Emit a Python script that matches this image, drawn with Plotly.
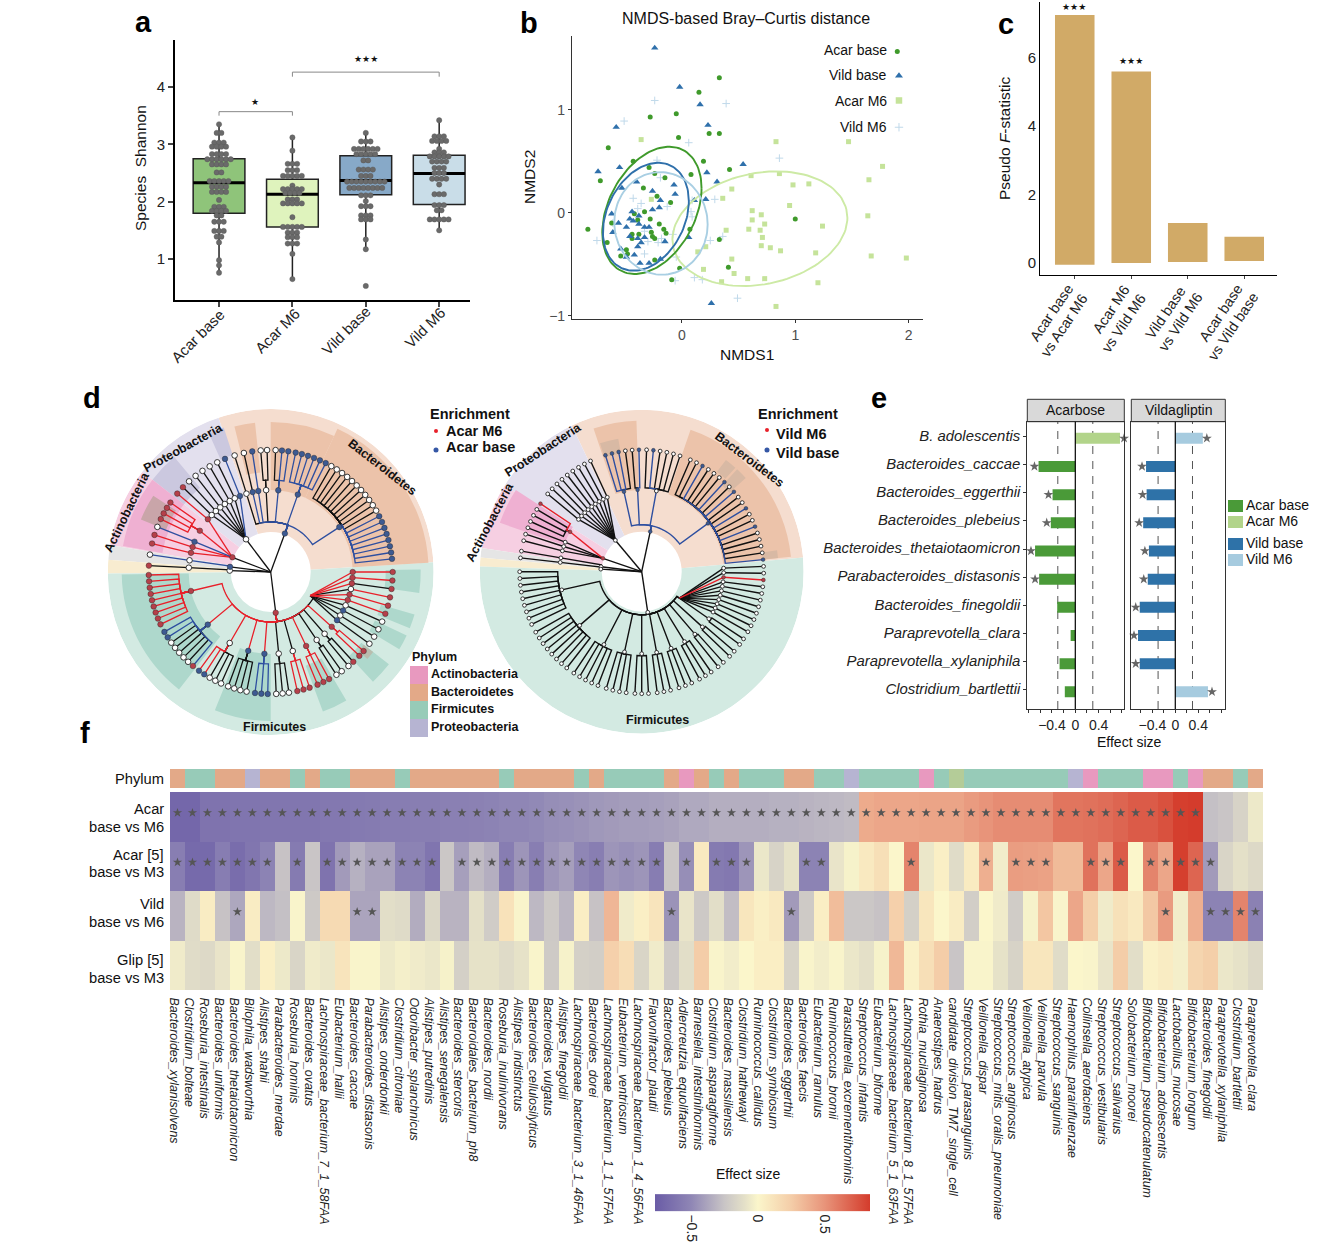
import math
import plotly.graph_objects as go

W, H = 1340, 1257
FONT = "Liberation Sans"

# ---------- panel a ----------
groups_a = ["Acar base", "Acar M6", "Vild base", "Vild M6"]
q1_a = [1.80, 1.56, 2.12, 1.95]
med_a = [2.33, 2.13, 2.37, 2.49]
q3_a = [2.75, 2.39, 2.80, 2.81]
low_a = [0.76, 0.65, 1.18, 1.50]
up_a = [3.35, 3.12, 3.20, 3.42]
fill_a = ["#8fc47a", "#dff3bd", "#87a9c8", "#c9dde8"]
swarm_vals_a = [
    [3.35, 3.2, 3.03, 2.96, 2.83, 2.74, 2.65, 2.51, 2.36, 2.26, 2.17, 2.03, 1.91, 1.84, 1.76, 1.65, 1.49, 1.39, 1.29, 0.98, 0.89, 0.76],
    [3.12, 2.89, 2.66, 2.55, 2.45, 2.28, 2.22, 2.15, 2.04, 1.97, 1.73, 1.56, 1.46, 1.38, 1.27, 1.09, 0.65],
    [3.2, 3.05, 2.92, 2.83, 2.72, 2.56, 2.45, 2.35, 2.24, 2.11, 2.01, 1.92, 1.76, 1.69, 1.34, 1.17, 0.53],
    [3.42, 3.14, 3.06, 2.92, 2.86, 2.79, 2.7, 2.59, 2.5, 2.4, 2.3, 2.13, 1.94, 1.85, 1.69, 1.5],
]
swarm_n_a = [
    [1, 2, 3, 4, 4, 6, 4, 2, 5, 4, 4, 1, 3, 4, 2, 3, 3, 2, 1, 1, 1, 1],
    [1, 1, 3, 3, 5, 1, 5, 4, 3, 5, 1, 5, 3, 3, 3, 1, 1],
    [1, 3, 6, 5, 2, 4, 3, 9, 8, 3, 1, 3, 3, 3, 1, 1, 1],
    [1, 3, 4, 1, 3, 5, 4, 3, 3, 4, 1, 3, 3, 2, 5, 1],
]

# ---------- panel b ----------
ab_x = [.33,.15,-.05,-.28,.24,.33,-.03,-.65,-.72,-.43,-.29,-.24,-.15,.08,.19,.42,-.34,-.22,-.10,-.33,-.42,-.28,-.39,-.62,-.20,-.83,-.16,-.14,-.44,-.38,-.27,-.26,-.24,-.44,-.66,.07,.33,-.49,-.48,-.54,-.24,-.02,.41,-.09,1.0]
ab_y = [1.31,1.17,.96,.93,.77,.77,.73,.63,.31,.50,.44,.38,.34,.37,.50,.42,.24,.16,.10,.01,-.01,-.06,-.07,-.10,-.11,-.16,-.16,-.20,-.21,-.21,-.19,-.23,-.25,-.25,-.29,-.16,-.26,-.36,-.40,-.42,-.46,-.54,-.53,-.65,-.06]
vb_x = [-.24,-.02,.16,-.58,.23,-.74,-.55,.54,.22,.31,-.40,-.53,-.07,-.06,-.26,-.19,.21,.11,-.20,-.26,-.44,-.38,-.62,-.46,-.43,-.56,-.49,-.38,-.33,-.29,-.61,-.46,-.33,-.39,-.36,-.15,.06,-.39,-.54,-.49,-.42,-.37,-.29,-.19,.26]
vb_y = [1.60,1.22,1.05,.83,.85,.40,.44,.47,.39,.30,.30,.24,.27,.18,.21,.12,.13,.12,.05,.03,.01,-.03,-.01,-.06,-.08,-.10,-.14,-.11,-.14,-.14,-.19,-.23,-.24,-.25,-.29,-.28,-.24,-.33,-.35,-.43,-.41,-.49,-.49,-.45,-.88]
am_x = [-.36,.83,1.47,1.77,1.65,.61,.86,.98,1.12,.44,.36,-.27,.95,.62,.70,1.64,.62,.73,1.24,.59,.69,.39,.71,.21,.70,.78,.87,.14,1.18,1.67,1.98,.44,.19,.46,.58,.73,.35,1.20,.83]
am_y = [.71,.69,.69,.45,.32,.36,.38,.27,.28,.23,.14,.13,.07,.02,-.02,-.03,-.07,-.11,-.13,-.16,-.17,-.17,-.24,-.33,-.32,-.34,-.37,-.38,-.39,-.42,-.44,-.45,-.55,-.59,-.64,-.64,-.67,-.68,-.91]
vm_x = [-.24,.39,-.51,.06,.86,-.22,-.19,-.43,-.36,-.39,-.13,.09,.29,.08,.09,.36,.25,-.75,-.33,-.18,-.21,-.08,-.33,-.05,.11,.18,-.06,.49,-.30,-.61]
vm_y = [1.09,1.06,.89,.68,.53,.51,.34,.14,.09,.04,.06,.12,.13,.01,-.04,-.23,-.27,-.27,-.18,-.25,-.29,-.21,-.40,-.43,-.63,-.65,-.66,-.83,-.28,-.10]
# fitted ellipse summaries: centre x, centre y, half-width x, half-width y, correlation
ell_ab = (-.265, .023, .438, .618, .349)
ell_vb = (-.318, -.039, .379, .524, .287)
ell_vm = (-.185, -.104, .412, .498, -.02)
ell_am = (.688, -.155, .772, .557, .19)

# ---------- panel c ----------
pairs_c = ["Acar base<br>vs Acar M6", "Acar M6<br>vs Vild M6", "Vild base<br>vs Vild M6", "Acar base<br>vs Vild base"]
f_top = [7.25, 5.6, 1.17, 0.77]
f_base = [-0.05, 0.0, 0.03, 0.06]

# ---------- panel e ----------
species_e = ["B. adolescentis", "Bacteroides_caccae", "Bacteroides_eggerthii", "Bacteroides_plebeius",
             "Bacteroides_thetaiotaomicron", "Parabacteroides_distasonis", "Bacteroides_finegoldii",
             "Paraprevotella_clara", "Paraprevotella_xylaniphila", "Clostridium_bartlettii"]
acar_e = [.766, -.63, -.39, -.42, -.69, -.62, -.31, -.08, -.27, -.18]
vild_e = [.48, -.51, -.50, -.56, -.46, -.48, -.62, -.65, -.62, .57]
acar_sig = [1, 1, 1, 1, 1, 1, 0, 0, 0, 0]
vild_sig = [1, 1, 1, 1, 1, 1, 1, 1, 1, 1]

# ---------- panel f ----------
taxa = ["Bacteroides_xylanisolvens","Clostridium_bolteae","Roseburia_intestinalis","Bacteroides_uniformis","Bacteroides_thetaiotaomicron","Bilophila_wadsworthia","Alistipes_shahii","Parabacteroides_merdae","Roseburia_hominis","Bacteroides_ovatus","Lachnospiraceae_bacterium_7_1_58FAA","Eubacterium_hallii","Bacteroides_caccae","Parabacteroides_distasonis","Alistipes_onderdonkii","Clostridium_citroniae","Odoribacter_splanchnicus","Alistipes_putredinis","Alistipes_senegalensis","Bacteroides_stercoris","Bacteroidales_bacterium_ph8","Bacteroides_nordii","Roseburia_inulinivorans","Alistipes_indistinctus","Bacteroides_cellulosilyticus","Bacteroides_vulgatus","Alistipes_finegoldii","Lachnospiraceae_bacterium_3_1_46FAA","Bacteroides_dorei","Lachnospiraceae_bacterium_1_1_57FAA","Eubacterium_ventriosum","Lachnospiraceae_bacterium_1_4_56FAA","Flavonifractor_plautii","Bacteroides_plebeius","Adlercreutzia_equolifaciens","Barnesiella_intestinihominis","Clostridium_asparagiforme","Bacteroides_massiliensis","Clostridium_hathewayi","Ruminococcus_callidus","Clostridium_symbiosum","Bacteroides_eggerthii","Bacteroides_faecis","Eubacterium_ramulus","Ruminococcus_bromii","Parasutterella_excrementihominis","Streptococcus_infantis","Eubacterium_biforme","Lachnospiraceae_bacterium_5_1_63FAA","Lachnospiraceae_bacterium_8_1_57FAA","Rothia_mucilaginosa","Anaerostipes_hadrus","candidate_division_TM7_single_cell","Streptococcus_parasanguinis","Veillonella_dispar","Streptococcus_mitis_oralis_pneumoniae","Streptococcus_anginosus","Veillonella_atypica","Veillonella_parvula","Streptococcus_sanguinis","Haemophilus_parainfluenzae","Collinsella_aerofaciens","Streptococcus_vestibularis","Streptococcus_salivarius","Solobacterium_moorei","Bifidobacterium_pseudocatenulatum","Bifidobacterium_adolescentis","Lactobacillus_mucosae","Bifidobacterium_longum","Bacteroides_finegoldii","Paraprevotella_xylaniphila","Clostridium_bartlettii","Paraprevotella_clara"]
phylum_f = list("B"+"FF"+"BB"+"P"+"BB"+"F"+"B"+"FF"+"BBB"+"F"+"BBBBBB"+"F"+"BBBB"+"F"+"B"+"FFFF"+"B"+"A"+"B"+"F"+"B"+"FFF"+"BB"+"FF"+"P"+"FFFF"+"A"+"F"+"T"+"FFFFFFF"+"P"+"A"+"FFF"+"AA"+"F"+"A"+"BB"+"F"+"B")
row_acar_m6 = [-.7,-.7,-.62,-.62,-.61,-.61,-.6,-.6,-.6,-.6,-.59,-.59,-.58,-.57,-.56,-.56,-.55,-.55,-.54,-.54,-.53,-.52,
 -.5,-.5,-.49,-.47,-.46,-.45,-.43,-.42,-.41,-.41,-.4,-.39,-.36,-.36,-.34,-.34,-.34,-.34,-.33,-.33,-.32,-.31,-.3,-.29,
 .4,.42,.42,.42,.43,.43,.43,.47,.5,.53,.53,.53,.53,.62,.62,.63,.65,.68,.72,.72,.76,.83,.84,-.27,-.25,-.17,-.06]
row_acar_m3 = [-.55,-.68,-.68,-.56,-.66,-.6,-.52,-.26,-.57,-.25,-.62,-.42,-.33,-.39,-.39,-.52,-.52,-.61,-.24,-.4,-.29,-.34,
 -.56,-.44,-.55,-.44,-.4,-.5,-.55,-.44,-.46,-.44,-.56,-.24,-.47,.08,-.57,-.59,-.44,-.07,-.17,-.09,-.52,-.52,-.08,-.02,.08,.14,
 0,.56,-.07,.04,-.12,.07,.38,-.04,.46,.45,.44,.33,.33,.63,.42,.72,0,.56,.42,.83,.68,-.42,-.16,-.1,-.14]
row_vild_m6 = [-.32,-.13,.06,-.26,-.37,.06,-.3,-.27,-.01,-.23,.17,.17,-.38,-.38,-.11,-.13,-.35,-.15,-.32,-.32,-.1,-.21,
 .12,-.01,-.3,-.23,-.31,.05,-.26,.35,-.05,.04,.11,-.45,-.08,-.23,-.11,-.28,.1,.04,.08,-.42,-.22,.05,.32,-.24,-.24,-.26,
 .23,-.19,.1,0,.06,-.2,0,-.05,-.21,-.02,.28,-.01,.42,.24,-.05,.13,.08,.27,.47,-.04,.38,-.52,-.52,.56,-.53]
row_glip_m3 = [-.05,-.12,-.14,-.08,-.01,-.11,.04,-.06,-.16,-.05,-.07,.11,-.01,-.01,-.06,-.03,-.05,-.07,-.02,-.19,-.09,-.09,
 -.13,-.09,-.01,-.22,-.02,-.19,-.2,.23,.15,-.16,-.05,-.22,-.11,.25,-.01,-.04,0,.05,.05,-.17,-.01,-.04,-.01,-.07,-.1,-.02,
 .34,.03,.14,.25,-.25,-.01,-.01,-.09,-.17,.1,.1,-.12,0,-.01,-.08,.25,-.11,.03,.06,-.03,.2,.24,-.07,-.09,-.14]
stars_acar_m6 = list(range(1, 70))
stars_acar_m3 = [1,2,3,4,5,6,7,9,11,12,13,14,15,16,17,18,20,21,22,23,24,25,26,27,28,29,30,31,32,33,35,37,38,39,43,44,50,55,57,58,59,62,63,64,66,67,68,69,70]
stars_vild_m6 = [5,13,14,34,42,67,70,71,72,73]
for row in (row_acar_m6, row_acar_m3, row_vild_m6, row_glip_m3, phylum_f, taxa):
    assert len(row) == 73, len(row)

fig = go.Figure()
shapes, notes = [], []


def fx(p):
    return p / W


def fy(p):
    return 1 - p / H


def txt(x, y, s, size=14, anchor="center", angle=0, bold=False, color="#111", family=FONT, italic=False):
    if bold:
        s = "<b>%s</b>" % s
    if italic:
        s = "<i>%s</i>" % s
    nudge = {"right": 2, "left": -2, "center": 0}[anchor]
    notes.append(dict(xref="paper", yref="paper", x=fx(x + nudge), y=fy(y), text=s, showarrow=False,
                      xanchor=anchor, yanchor="middle", textangle=angle,
                      font=dict(size=size, color=color, family=family)))


def rect(x0, y0, x1, y1, fill, line=None):
    shapes.append(dict(type="rect", xref="paper", yref="paper", x0=fx(x0), x1=fx(x1), y0=fy(y0), y1=fy(y1),
                       fillcolor=fill, line=dict(width=1 if line else 0, color=line or fill), layer="below"))


def dot(x, y, r, fill):
    shapes.append(dict(type="circle", xref="paper", yref="paper", x0=fx(x - r), x1=fx(x + r), y0=fy(y - r), y1=fy(y + r),
                       fillcolor=fill, line=dict(width=0)))


layout_axes = {}


def axes(n, x0, x1, y0, y1, xkw, ykw):
    sx = "" if n == 1 else str(n)
    layout_axes["xaxis" + sx] = dict(domain=[fx(x0), fx(x1)], anchor="y" + sx, automargin=False, **xkw)
    layout_axes["yaxis" + sx] = dict(domain=[fy(y1), fy(y0)], anchor="x" + sx, automargin=False, **ykw)


# ---- a ----
tf15 = dict(size=15, color="#222", family=FONT)
axes(1, 175, 470, 40, 300,
     dict(range=[-0.6, 3.42], tickvals=list(range(4)), ticktext=[""] * 4, showgrid=False,
          zeroline=False, showline=True, linecolor="#000", linewidth=2, ticks="outside", ticklen=5, tickwidth=1.5),
     dict(range=[0.285, 4.82], tickvals=[1, 2, 3, 4], tickfont=tf15, showgrid=False, zeroline=False, showline=True,
          linecolor="#000", linewidth=2, ticks="outside", ticklen=5, tickwidth=1.5))
for lab, cx, cy in zip(groups_a, [198.3, 277.3, 345.8, 425], [335.7, 330, 330, 327.5]):
    txt(cx, cy, lab, 15, angle=-45, color="#222")
for i in range(4):
    fig.add_trace(go.Box(x=[i], q1=[q1_a[i]], median=[med_a[i]], q3=[q3_a[i]], lowerfence=[low_a[i]], upperfence=[up_a[i]],
                         width=0.705, whiskerwidth=0, fillcolor=fill_a[i], line=dict(color="#222", width=1.5),
                         boxpoints=False, showlegend=False, xaxis="x", yaxis="y"))
    fig.add_trace(go.Scatter(x=[i - 0.3525, i + 0.3525], y=[med_a[i]] * 2, mode="lines", line=dict(color="#000", width=3),
                             showlegend=False, xaxis="x", yaxis="y"))
    xs, ys = [], []
    for v, n in zip(swarm_vals_a[i], swarm_n_a[i]):
        for k in range(n):
            xs.append(i + (k - (n - 1) / 2) * 0.064)
            ys.append(v)
    fig.add_trace(go.Scatter(x=xs, y=ys, mode="markers", marker=dict(size=5.3, color="#6a6a6a", line=dict(width=0.4, color="#555")),
                             showlegend=False, xaxis="x", yaxis="y"))
for bx, by in [([0, 0, 1, 1], [3.5, 3.57, 3.57, 3.5]), ([1, 1, 3, 3], [4.18, 4.26, 4.26, 4.18])]:
    fig.add_trace(go.Scatter(x=bx, y=by, mode="lines", line=dict(color="#888", width=1), showlegend=False, xaxis="x", yaxis="y"))
txt(255, 102.5, "★", 9, family="DejaVu Sans")
txt(366, 59, "★★★", 9, family="DejaVu Sans")
txt(140, 168, "Species\u00a0\u00a0Shannon", 15.5, angle=-90)

# ---- b ----
tf14g = dict(size=14, color="#4d4d4d", family=FONT)
axes(2, 572, 923, 36, 319,
     dict(range=[-0.97, 2.127], tickvals=[0, 1, 2], tickfont=tf14g, showgrid=False, zeroline=False, showline=True,
          linecolor="#333", linewidth=1.2, ticks="outside", ticklen=3, tickcolor="#333"),
     dict(range=[-1.032, 1.716], tickvals=[-1, 0, 1], ticktext=["−1", "0", "1"], tickfont=tf14g, showgrid=False,
          zeroline=False, showline=True, linecolor="#333", linewidth=1.2, ticks="outside", ticklen=3, tickcolor="#333"))
GB, BL, LG, LB = "#3f9a2b", "#2f70ab", "#c5e39a", "#c0d9ea"
for xs, ys, sym, col, size in [(am_x, am_y, "square", LG, 5), (vm_x, vm_y, "cross-thin", LB, 5.5),
                               (ab_x, ab_y, "circle", GB, 5), (vb_x, vb_y, "triangle-up", BL, 6.5)]:
    fig.add_trace(go.Scatter(x=xs, y=ys, mode="markers",
                             marker=dict(symbol=sym, color=col, size=size, line=dict(width=1, color=col) if sym == "cross-thin" else dict(width=0)),
                             showlegend=False, xaxis="x2", yaxis="y2"))


def ellipse(p):
    cx, cy, hx, hy, rho = p
    d = math.acos(rho)
    ts = [2 * math.pi * k / 120 for k in range(121)]
    return [cx + hx * math.cos(t) for t in ts], [cy + hy * math.cos(t - d) for t in ts]


for p, col in [(ell_am, "#cdeaa5"), (ell_ab, GB), (ell_vb, BL), (ell_vm, "#a9cfe3")]:
    ex, ey = ellipse(p)
    fig.add_trace(go.Scatter(x=ex, y=ey, mode="lines", line=dict(color=col, width=1.9), showlegend=False, xaxis="x2", yaxis="y2"))
txt(746, 18.5, "NMDS-based Bray–Curtis distance", 16)
txt(747, 354, "NMDS1", 15.5)
txt(529, 177, "NMDS2", 15.5, angle=-90)
for lab, yy in zip(["Acar base", "Vild base", "Acar M6", "Vild M6"], [50, 75, 101, 127]):
    txt(887, yy, lab, 14, anchor="right")
fig.add_trace(go.Scatter(x=[1.90], y=[1.565], mode="markers", marker=dict(color=GB, size=5), showlegend=False, xaxis="x2", yaxis="y2"))
fig.add_trace(go.Scatter(x=[1.915], y=[1.33], mode="markers", marker=dict(color=BL, size=7, symbol="triangle-up"), showlegend=False, xaxis="x2", yaxis="y2"))
fig.add_trace(go.Scatter(x=[1.915], y=[1.09], mode="markers", marker=dict(color=LG, size=6.5, symbol="square"), showlegend=False, xaxis="x2", yaxis="y2"))
fig.add_trace(go.Scatter(x=[1.915], y=[.83], mode="markers", marker=dict(color=LB, size=6, symbol="cross-thin", line=dict(width=1, color=LB)), showlegend=False, xaxis="x2", yaxis="y2"))

# ---- c ----
axes(3, 1040.3, 1277, 2, 275.3,
     dict(range=[-0.61, 3.58], tickvals=list(range(4)), ticktext=[""] * 4,
          showgrid=False, zeroline=False, showline=True, linecolor="#000", linewidth=1.3, ticks="outside", ticklen=3),
     dict(range=[-0.36, 7.63], tickvals=[0, 2, 4, 6], tickfont=tf15, showgrid=False, zeroline=False, showline=True,
          linecolor="#000", linewidth=1.3, ticks="", ticklen=0))
fig.add_trace(go.Bar(x=list(range(4)), y=[t - b for t, b in zip(f_top, f_base)], base=f_base, width=0.7,
                     marker=dict(color="#d1aa67", line=dict(width=0)), showlegend=False, xaxis="x3", yaxis="y3"))
centres_c = [((1051.3, 313), (1064.3, 325)), ((1111.3, 309), (1123.7, 322.7)), ((1165.3, 313), (1180.3, 321.7)), ((1220.7, 312.7), (1233.3, 326))]
for lab, (c1, c2) in zip(pairs_c, centres_c):
    l1, l2 = lab.split("<br>")
    txt(c1[0], c1[1], l1, 14.5, angle=-56, color="#222")
    txt(c2[0], c2[1], l2, 14.5, angle=-56, color="#222")
txt(1074, 7, "★★★", 9, family="DejaVu Sans")
txt(1131, 61, "★★★", 9, family="DejaVu Sans")
txt(1005, 139, "Pseudo <i>F</i>-statistic", 15.5, angle=-90)

# ---- e ----
etv = [-.8, -.6, -.4, -.2, 0, .2, .4, .6, .8]
ett = ["", "", "−0.4", "", "0", "", "0.4", "", ""]
for n, x0, x1, rng in [(4, 1027.3, 1124.3, [-.823, .84]), (5, 1131.3, 1225.3, [-.767, .872])]:
    axes(n, x0, x1, 421.7, 709,
         dict(range=rng, tickvals=etv, ticktext=ett, tickfont=dict(size=14, color="#222", family=FONT), showgrid=False,
              zeroline=False, showline=True, mirror=True, linecolor="#333", linewidth=1, ticks="outside", ticklen=3, tickcolor="#333"),
         dict(range=[9.68, -0.52], tickvals=list(range(10)), ticktext=species_e if n == 4 else [""] * 10,
              tickfont=dict(size=14.9, color="#222", family=FONT, style="italic"), showgrid=False, zeroline=False, showline=True,
              ticklabelshift=1,
              mirror=True, linecolor="#333", linewidth=1, ticks="outside" if n == 4 else "", ticklen=3, tickcolor="#333"))
    for v in (-0.3, 0.3):
        shapes.append(dict(type="line", xref="x%d" % n, x0=v, x1=v, yref="paper", y0=fy(709), y1=fy(421.7),
                           line=dict(color="#555", width=1, dash="8px,7px"), layer="below"))
    shapes.append(dict(type="line", xref="x%d" % n, x0=0, x1=0, yref="paper", y0=fy(709), y1=fy(421.7),
                       line=dict(color="#000", width=1.2), layer="above"))
    rect(x0, 399.3, x1, 421.7, "#d9d9d9", "#333")
    txt((x0 + x1) / 2, 410, "Acarbose" if n == 4 else "Vildagliptin", 14)
for n, vals, sig, neg, pos in [(4, acar_e, acar_sig, "#4a9a38", "#b2d48a"), (5, vild_e, vild_sig, "#2e72a8", "#a6cbdf")]:
    fig.add_trace(go.Bar(x=vals, y=list(range(10)), orientation="h", width=0.39, offset=-0.125,
                         marker=dict(color=[pos if v > 0 else neg for v in vals], line=dict(width=0)),
                         showlegend=False, xaxis="x%d" % n, yaxis="y%d" % n))
    sx = [v + (0.07 if v > 0 else -0.07) for v, s in zip(vals, sig) if s]
    sy = [i + 0.07 for i, s in enumerate(sig) if s]
    fig.add_trace(go.Scatter(x=sx, y=sy, mode="markers", marker=dict(symbol="star", size=7.5, color="#666", line=dict(width=0)),
                             showlegend=False, xaxis="x%d" % n, yaxis="y%d" % n, cliponaxis=False))
txt(1129.5, 742, "Effect size", 14)
for lab, col, yy in [("Acar base", "#4a9a38", 506), ("Acar M6", "#b2d48a", 522), ("Vild base", "#2e72a8", 544), ("Vild M6", "#a6cbdf", 560)]:
    rect(1228, yy - 6, 1243, yy + 6, col)
    txt(1246, yy - 1, lab, 14, anchor="left")

# ---- f ----
Z0, Z1 = -0.77, 0.84


def st(v):
    return (v - Z0) / (Z1 - Z0)


cscale = [[st(-.77), "#6a5ca6"], [st(-.5), "#8f86b5"], [st(-.25), "#c9c5c6"], [st(-.1), "#e4e0c8"], [st(0), "#fbf6cb"],
          [st(.25), "#f4cda8"], [st(.5), "#e8947a"], [st(.84), "#d43c2c"]]
axes(6, 170, 1263, 769, 788,
     dict(range=[-.5, 72.5], visible=False), dict(range=[-.5, .5], visible=False))
axes(7, 170, 1263, 792, 990,
     dict(range=[-.5, 72.5], tickvals=[i - 0.23 for i in range(73)], ticktext=taxa, tickangle=90, ticks="outside", ticklen=4,
          tickcolor="rgba(0,0,0,0)", showgrid=False, zeroline=False,
          tickfont=dict(size=12.4, color="#222", family=FONT, style="italic")),
     dict(range=[3.5, -.5], visible=False))
pcode = {"A": 0, "B": 1, "F": 2, "P": 3, "T": 4}
pc = ["#e899bf", "#e3a988", "#97cbb8", "#b6b4d2", "#b4cc98"]
pscale = [[0, pc[0]], [.125, pc[0]], [.125, pc[1]], [.375, pc[1]], [.375, pc[2]], [.625, pc[2]], [.625, pc[3]], [.875, pc[3]], [.875, pc[4]], [1, pc[4]]]
fig.add_trace(go.Heatmap(z=[[pcode[c] for c in phylum_f]], zmin=0, zmax=4, colorscale=pscale, showscale=False, xaxis="x6", yaxis="y6"))
fig.add_trace(go.Heatmap(z=[row_acar_m6, row_acar_m3, row_vild_m6, row_glip_m3], zmin=Z0, zmax=Z1, colorscale=cscale,
                         xaxis="x7", yaxis="y7",
                         colorbar=dict(orientation="h", x=fx(655), xanchor="left", y=fy(1239), yanchor="bottom", xref="paper", yref="paper",
                                       len=215, lenmode="pixels", thickness=17, thicknessmode="pixels", xpad=0, ypad=0, outlinewidth=0,
                                       tickvals=[-.5, 0, .5], ticktext=["−0.5", "0", "0.5"], tickangle=90, ticks="",
                                       tickfont=dict(size=14, color="#222", family=FONT))))
sx, sy = [], []
for r, cols in enumerate([stars_acar_m6, stars_acar_m3, stars_vild_m6]):
    for c in cols:
        sx.append(c - 1)
        sy.append(r - 0.08)
fig.add_trace(go.Scatter(x=sx, y=sy, mode="markers", marker=dict(symbol="star", size=7, color="#555", line=dict(width=0)),
                         showlegend=False, xaxis="x7", yaxis="y7"))
txt(164, 779, "Phylum", 14.7, anchor="right")
for y1, y2, a, b in [(809, 827, "Acar", "base vs M6"), (855, 872, "Acar [5]", "base vs M3"), (904, 922, "Vild", "base vs M6"), (960, 978, "Glip [5]", "base vs M3")]:
    txt(164, y1, a, 14.7, anchor="right")
    txt(164, y2, b, 14.7, anchor="right")
txt(748, 1174, "Effect size", 14)

# ---- d : two circular cladograms ----
RED, BLU, BLK = "#e8202a", "#2e4fa0", "#111111"
ECOL = {"R": RED, "B": BLU, "K": BLK}


def lf(code):
    return dict(m=code[0], e=code[1])


def nd(r, m, e, kids, ra=None, fan=False, ang=None):
    return dict(r=r, m=m, e=e, kids=kids, ra=ra, fan=fan, ang=ang)


def leaves(code, n=1):
    return [lf(code) for _ in range(n)]


def single(m, e, code):
    return nd(82, m, e, [lf(code)])


# left tree: leaf-marker + edge colour codes, numbers are extra angular gaps
tree_left = [
    nd(41, "r", "K", [
        nd(82, "r", "R", leaves("rR", 9), ra=92), 1,
        nd(82, "b", "R", leaves("bB", 2) + leaves("wK", 5) + leaves("rB"), ra=92), .6,
        nd(82, "w", "R", leaves("bR", 2) + leaves("wK", 3), ra=92), .6,
        nd(82, "b", "R", leaves("wK", 4), ra=92), 1,
        nd(82, "b", "R", leaves("bB", 3), ra=92), 1,
        nd(82, "w", "K", leaves("wK", 3), ra=92), 1,
        nd(82, "w", "K", leaves("rR", 3), ra=92), 1,
        nd(82, "r", "R", leaves("rR", 3), ra=92), 1,
        nd(82, "w", "K", leaves("wK", 2), ra=90), 1,
        nd(82, "w", "K", [lf("wK"), lf("rK")], ra=90), 1,
        nd(82, "r", "R", leaves("rR", 2), ra=90), 1.4,
        nd(46, "", "K", [
            single("b", "K", "wK"), 1, single("w", "K", "wK"), 1, single("b", "K", "wK"), 1, single("w", "K", "wK"), 1,
            single("r", "R", "rR"), 1, single("r", "R", "rR"), 1, single("w", "K", "rR"), 1, single("r", "R", "rK"), 1,
            single("r", "R", "rR"), 1, single("r", "R", "rR"),
        ], fan=True, ang=329),
    ], ra=50, ang=277), 3.2,
    nd(41, "b", "K", [
        nd(82, "b", "B", leaves("bB", 8) + leaves("wK", 11), ra=85), 0,
        nd(82, "b", "B", leaves("bB", 6), ra=92), .5,
        nd(82, "b", "B", [lf("bB"), lf("bB"), lf("wK")], ra=92), 1,
        nd(82, "w", "K", leaves("wK", 2), ra=92), 1,
        single("b", "B", "bB"), 1, single("b", "B", "wK"), 1.5, single("w", "K", "wK"),
    ], ra=50, ang=429.8), 1.8,
    nd(41, "w", "K", [
        single("b", "B", "bB"), 1, single("w", "K", "wK"), 1, single("w", "K", "wK"), 1, single("w", "K", "wK"), 1,
        single("w", "K", "wK"), 1, single("w", "K", "wK"), 1, single("w", "K", "rK"),
    ], fan=True, ang=487), 1,
    nd(41, "r", "K", [
        single("r", "R", "rR"), 2.3,
        nd(82, "r", "R", leaves("rR", 4), ra=92), 1,
        single("b", "B", "wB"), 1, single("r", "R", "rR"), 1.2, single("r", "R", "rR"),
    ], fan=True, ang=519), 2.3,
    nd(41, "b", "K", [single("w", "B", "wB")], ang=532.8), 2.2,
    nd(41, "w", "K", [single("w", "K", "rK")], ang=538),
]

wk = lambda n: leaves("wK", n)
a_codes = ["bB", "wK", "wK", "wK", "wK", "bB", "wK", "wK", "bB", "wK", "wK", "bB", "wK", "bB", "wK", "wK", "wK", "bB", "wK", "wK"]
f10_codes = ["wK"] * 8 + ["rR"] + ["wK"] * 2
tree_right = [
    nd(41, "w", "K", [
        nd(82, "w", "K", wk(9), ra=84), .9,
        nd(82, "w", "K", wk(8), ra=84), .9,
        nd(82, "w", "K", wk(5), ra=84), .9,
        nd(82, "w", "K", wk(4), ra=84), .9,
        nd(82, "w", "K", wk(3), ra=84), .9,
        nd(82, "w", "K", wk(3), ra=84), .9,
        nd(82, "w", "K", wk(3), ra=84), .9,
        nd(82, "w", "K", wk(3), ra=84), .9,
        nd(82, "w", "K", wk(2), ra=84), .9,
        nd(82, "w", "K", wk(2), ra=84), .9,
        nd(82, "w", "K", wk(2), ra=84), .7,
        nd(46, "", "K", [single("r" if c[0] == "r" else "w", c[1], c) for c in f10_codes], fan=True, ang=325),
    ], ra=43, ang=278.5), 0,
    nd(41, "b", "K", [
        nd(82, "b", "B", [lf(c) for c in a_codes], ra=84), 2,
        nd(82, "w", "B", wk(4) + leaves("bB") + wk(1), ra=84), .4,
        nd(82, "b", "B", [lf("bB"), lf("wK")], ra=84), 0,
        nd(82, "b", "B", [lf("wK"), lf("bB"), lf("bB"), lf("bB")], ra=84),
    ], ra=47, ang=438), 4.3,
    nd(41, "w", "K", [single("w", "K", "wK") for _ in range(9)], fan=True, ang=490), 2.5,
    nd(41, "r", "K", [
        nd(82, "r", "R", [lf("rR"), lf("wK"), lf("wK"), lf("wK")], ra=86), 0,
        single("w", "K", "wK"), single("w", "K", "wK"), single("w", "K", "wK"),
    ], fan=True, ang=521), 1.8,
    nd(41, "w", "K", [single("w", "K", "wK")], ang=533),
    nd(41, "w", "K", [single("w", "K", "wK")], ang=536.4),
]


def layout_tree(items, start, step):
    cur = [start]

    def visit(node):
        if "kids" not in node:
            node["a"] = cur[0]
            node["r"] = 122
            cur[0] += step
            return node["a"]
        angs = []
        for k in node["kids"]:
            if isinstance(k, (int, float)):
                cur[0] += k
            else:
                angs.append(visit(k))
        node["a"] = node["ang"] if node["ang"] is not None else (angs[0] + angs[-1]) / 2
        return node["a"]

    for it in items:
        if isinstance(it, (int, float)):
            cur[0] += it
        else:
            visit(it)


def draw_tree(items, polar, msize, lw):
    segs = {"K": ([], []), "R": ([], []), "B": ([], [])}
    marks = {"w": ([], []), "r": ([], []), "b": ([], [])}

    def add(col, rs, ts):
        segs[col][0].extend(rs + [None])
        segs[col][1].extend(ts + [None])

    def arc(a0, a1):
        n = max(1, int(abs(a1 - a0) / 3))
        return [a0 + (a1 - a0) * i / n for i in range(n + 1)]

    def visit(node):
        if node.get("m"):
            marks[node["m"]][0].append(node["r"])
            marks[node["m"]][1].append(node["a"])
        for k in node.get("kids", []):
            if isinstance(k, (int, float)):
                continue
            if node["fan"]:
                add(k["e"], [node["r"], k["r"]], [node["a"], k["a"]])
            else:
                ra = node["ra"] if node["ra"] is not None else node["r"]
                ts = arc(node["a"], k["a"])
                add(k["e"], [node["r"]] + [ra] * len(ts) + [k["r"]], [node["a"]] + ts + [k["a"]])
            visit(k)

    for it in items:
        if isinstance(it, (int, float)):
            continue
        add(it["e"], [0, it["r"]], [it["a"], it["a"]])
        visit(it)
    for col in ["K", "R", "B"]:
        fig.add_trace(go.Scatterpolar(r=segs[col][0], theta=segs[col][1], mode="lines", line=dict(color=ECOL[col], width=lw),
                                      subplot=polar, showlegend=False, connectgaps=False))
    fills = {"w": "#ffffff", "r": "#b5404a", "b": "#3d5a92"}
    for m in ["w", "r", "b"]:
        fig.add_trace(go.Scatterpolar(r=marks[m][0], theta=marks[m][1], mode="markers",
                                      marker=dict(size=msize, color=fills[m], line=dict(width=0.9 if m == "w" else 0.4, color="#222")),
                                      subplot=polar, showlegend=False))


def sectors(rows, polar):
    fig.add_trace(go.Barpolar(r=[x[3] - x[2] for x in rows], base=[x[2] for x in rows],
                              theta=[(x[0] + x[1]) / 2 for x in rows], width=[x[1] - x[0] for x in rows],
                              marker=dict(color=[x[4] for x in rows], line=dict(width=0)), subplot=polar, showlegend=False))


BL1, PR1, AC1, GR1, YE1, FI1 = "#f5ddcf", "#e3e0ee", "#f6cfe2", "#e5e5e5", "#f8ecd0", "#d3eae2"
BD, PD, AD, FD, TP = "#ecc3aa", "#cbc8df", "#efb0d2", "#aed8cc", "#c9a5a9"
sect_left = [(3.4, 108.7, 40, 163, BL1), (108.7, 142, 40, 163, PR1), (142, 170.5, 40, 163, AC1), (170.5, 175.7, 40, 163, GR1),
             (175.7, 180.5, 40, 163, YE1), (180.5, 363.4, 40, 163, FI1),
             (3.4, 65, 82, 158, BD), (65, 90, 82, 150, BD), (96, 104, 100, 150, BD), (108, 114, 123, 152, PD), (130, 142, 110, 150, PD),
             (142, 170, 110, 150, AD), (147, 158, 113, 140, TP), (181, 232, 82, 149, FD), (248, 270, 82, 149, FD),
             (290.5, 300.5, 100, 149, FD), (313, 322, 115, 150, FD), (329, 335, 115, 150, FD), (338, 343.5, 115, 150, FD), (352, 361, 115, 150, FD),
             (318, 322, 118, 130, "#b9bdae")]
sect_right = [(5, 115.6, 40, 162, BL1), (115.6, 147.9, 40, 162, PR1), (147.9, 171.6, 40, 162, AC1), (171.6, 175, 40, 162, GR1),
              (175, 178.2, 40, 162, YE1), (178.2, 365, 40, 162, FI1),
              (5.7, 71, 82, 150, BD), (92, 108.6, 82, 151, BD), (147, 161, 82, 150, AD),
              (100, 108, 120, 135, "#d8b9a4"), (48, 53, 125, 140, "#d8b9a4"), (42, 47, 118, 140, "#d8b9a4"), (5.7, 9, 122, 137, "#d8b9a4")]
sectors(sect_left, "polar")
sectors(sect_right, "polar2")
layout_tree(tree_left, 181.4, 3.0)
layout_tree(tree_right, 180, 3.2)
draw_tree(tree_left, "polar", 5.6, 1.3)
draw_tree(tree_right, "polar2", 3.8, 1.4)


def polar_layout(cx, cy, R):
    return dict(domain=dict(x=[fx(cx - R), fx(cx + R)], y=[fy(cy + R), fy(cy - R)]),
                bgcolor="rgba(0,0,0,0)", bargap=0,
                radialaxis=dict(visible=False, range=[0, R]),
                angularaxis=dict(visible=False, direction="counterclockwise", rotation=0))


for s, x, y, a in [("Actinobacteria", 127, 512, -64), ("Proteobacteria", 183, 448, -29), ("Bacteroidetes", 382, 467, 38), ("Firmicutes", 274, 727, 0),
                   ("Actinobacteria", 490, 522, -62), ("Proteobacteria", 543, 450, -33), ("Bacteroidetes", 750, 460, 37), ("Firmicutes", 657, 720, 0)]:
    txt(x, y, s, 12.5, angle=a, bold=True)
txt(430, 414, "Enrichment", 14.5, anchor="left", bold=True)
txt(446, 431, "Acar M6", 14.5, anchor="left", bold=True)
txt(446, 447, "Acar base", 14.5, anchor="left", bold=True)
dot(436, 431, 2, "#e8202a")
dot(436, 450, 2.5, "#3557a5")
txt(758, 414, "Enrichment", 14.5, anchor="left", bold=True)
txt(776, 434, "Vild M6", 14.5, anchor="left", bold=True)
txt(776, 453, "Vild base", 14.5, anchor="left", bold=True)
dot(767, 430, 2, "#e8202a")
dot(767, 450, 2.5, "#3557a5")
txt(412, 657, "Phylum", 12.5, anchor="left", bold=True)
for s, col, y0, y1 in [("Actinobacteria", "#e899bf", 666, 684), ("Bacteroidetes", "#e3a988", 684, 701), ("Firmicutes", "#97cbb8", 701, 719), ("Proteobacteria", "#b6b4d2", 719, 737)]:
    rect(410, y0, 428, y1, col)
    txt(431, (y0 + y1) / 2 - 1, s, 12.5, anchor="left", bold=True)

for s, x, y in [("a", 143, 22), ("b", 529, 23), ("c", 1006, 24), ("d", 92, 398), ("e", 879, 398), ("f", 85, 733)]:
    txt(x, y, s, 29, bold=True, color="#000")

fig.update_layout(width=W, height=H, autosize=False, margin=dict(l=0, r=0, t=0, b=0), paper_bgcolor="#fff", plot_bgcolor="rgba(0,0,0,0)",
                  showlegend=False, shapes=shapes, annotations=notes, font=dict(family=FONT),
                  polar=polar_layout(270.7, 572, 163), polar2=polar_layout(641.7, 571.7, 162), **layout_axes)
fig.write_html("out.html", post_script="document.body.style.margin='0';document.body.style.overflow='hidden';", config=dict(displayModeBar=False))
